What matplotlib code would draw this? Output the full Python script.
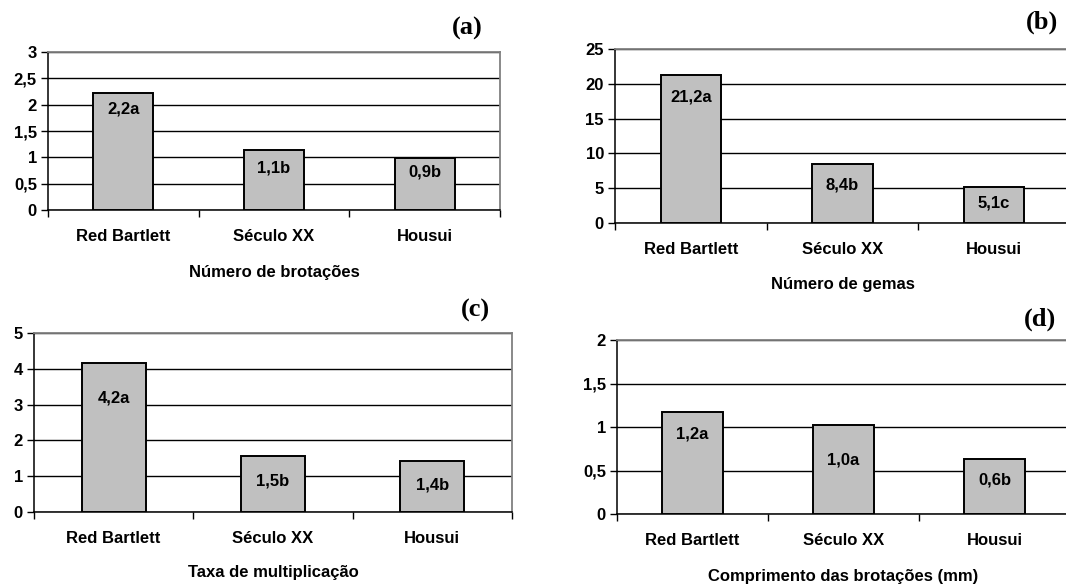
import matplotlib
matplotlib.use("Agg")
import matplotlib.pyplot as plt
from matplotlib.ticker import FuncFormatter, FixedLocator

plt.rcParams['font.family'] = ['Liberation Sans', 'DejaVu Sans']

categories = ["Red Bartlett", "Século XX", "Housui"]

# panel (a) Número de brotações
vals_a = [2.22, 1.14, 0.99]
labels_a = ["2,2a", "1,1b", "0,9b"]
# panel (b) Número de gemas
vals_b = [21.26, 8.47, 5.17]
labels_b = ["21,2a", "8,4b", "5,1c"]
# panel (c) Taxa de multiplicação
vals_c = [4.16, 1.56, 1.42]
labels_c = ["4,2a", "1,5b", "1,4b"]
# panel (d) Comprimento das brotações (mm)
vals_d = [1.17, 1.02, 0.63]
labels_d = ["1,2a", "1,0a", "0,6b"]

titles = ["Número de brotações", "Número de gemas",
          "Taxa de multiplicação", "Comprimento das brotações (mm)"]
panel_tags = ["(a)", "(b)", "(c)", "(d)"]
yticks_a = [0, 0.5, 1, 1.5, 2, 2.5, 3]
yticks_b = [0, 5, 10, 15, 20, 25]
yticks_c = [0, 1, 2, 3, 4, 5]
yticks_d = [0, 0.5, 1, 1.5, 2]

W, H = 1066, 584
fig = plt.figure(figsize=(W / 100, H / 100), dpi=100)

# layout in pixels: left, right, top, bottom
boxes = [(48, 500, 52, 210), (615, 1070, 49, 223),
         (34, 512, 333, 512), (617, 1070, 340, 514)]
label_off = [[16, 18, 14], [22, 21, 16], [35, 25, 24], [22, 35, 21]]
title_off = [63, 61, 60, 62]
tag_pos = [(467, 28), (1042, 22), (475, 310), (1040, 319)]

data = [(vals_a, labels_a, yticks_a), (vals_b, labels_b, yticks_b),
        (vals_c, labels_c, yticks_c), (vals_d, labels_d, yticks_d)]


def fmt(v, pos):
    s = ("%g" % v).replace(".", ",")
    return s


for i, ((vals, labs, yt), (l, r, t, b)) in enumerate(zip(data, boxes)):
    ax = fig.add_axes([l / W, 1 - b / H, (r - l) / W, (b - t) / H])
    x = list(range(len(categories)))
    ax.bar(x, vals, width=0.4, color="#c0c0c0", edgecolor="black",
           linewidth=1.4, zorder=3)
    ax.set_xlim(-0.5, len(categories) - 0.5)
    ax.set_ylim(yt[0], yt[-1])
    ax.set_yticks(yt)
    ax.yaxis.set_major_formatter(FuncFormatter(fmt))
    ax.grid(axis="y", color="black", linewidth=1.0, zorder=1)
    ax.set_axisbelow(True)
    for s in ["top", "right"]:
        ax.spines[s].set_color("#808080")
        ax.spines[s].set_linewidth(1.3)
    for s in ["left", "bottom"]:
        ax.spines[s].set_color("black")
        ax.spines[s].set_linewidth(1.1)
    ax.tick_params(axis="y", direction="out", length=5, width=1,
                   labelsize=12, pad=3)
    for tl in ax.get_yticklabels():
        tl.set_fontweight("bold")
    ax.set_xticks(x)
    ax.set_xticklabels(categories, fontsize=12, fontweight="bold")
    ax.tick_params(axis="x", which="major", length=0, pad=14)
    ax.xaxis.set_minor_locator(FixedLocator([-0.5, 0.5, 1.5, 2.5]))
    ax.tick_params(axis="x", which="minor", direction="out", length=5, width=1)
    for j, (v, lab) in enumerate(zip(vals, labs)):
        ax.annotate(lab, xy=(j, v), xytext=(0, -label_off[i][j] * 0.72),
                    textcoords="offset points", ha="center", va="center",
                    fontsize=12, fontweight="bold", zorder=4)
    ax.annotate(titles[i], xy=(0.5, 0), xycoords="axes fraction",
                xytext=(0, -title_off[i] * 0.72), textcoords="offset points",
                ha="center", va="center", fontsize=12, fontweight="bold")
    tx, ty = tag_pos[i]
    fig.text(tx / W, 1 - ty / H, panel_tags[i], ha="center", va="center",
             fontsize=19, fontweight="bold", family="Liberation Serif")

fig.savefig("out.png", dpi=100)
